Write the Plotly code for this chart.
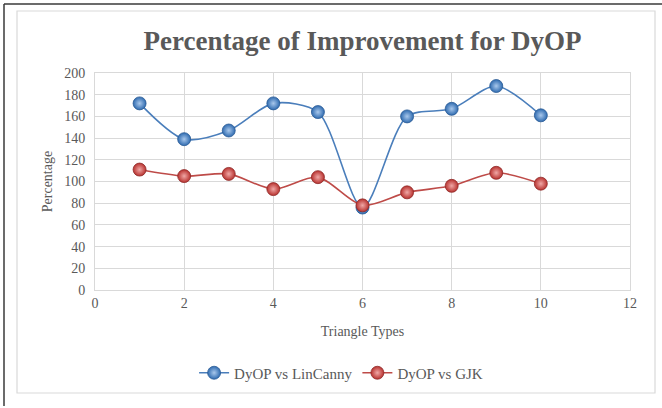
import plotly.graph_objects as go

triangle_types = [1, 2, 3, 4, 5, 6, 7, 8, 9, 10]
lincanny = [172, 139, 147, 172, 164, 76, 160, 167, 188, 161]
gjk = [111, 105, 107, 93, 104, 78, 90, 96, 108, 98]

W, H = 662, 408
L, R, T, B = 95, 630, 73, 290

def px(x):
    return (x - L) / (R - L)

def py(y):
    return (B - y) / (B - T)

font_fam = "Liberation Serif, DejaVu Serif, serif"
grey = "#595959"

fig = go.Figure()
fig.add_trace(go.Scatter(
    x=triangle_types, y=lincanny, name="DyOP vs LinCanny",
    mode="lines+markers", line=dict(color="#4a7ebb", width=1.6, shape="spline", smoothing=0.8),
    marker=dict(size=13, color="#2f6bb0", gradient=dict(type="radial", color="#a9c8ec"),
                line=dict(color="#2a5a94", width=0.8)),
))
fig.add_trace(go.Scatter(
    x=triangle_types, y=gjk, name="DyOP vs GJK",
    mode="lines+markers", line=dict(color="#be4b48", width=1.6, shape="spline", smoothing=0.8),
    marker=dict(size=13, color="#b8322f", gradient=dict(type="radial", color="#f0a8a6"),
                line=dict(color="#8e2a28", width=0.8)),
))

shapes = [
    dict(type="line", xref="paper", yref="paper", x0=px(4), x1=px(662), y0=py(4), y1=py(4),
         line=dict(color="#3a3a3a", width=1.5)),
    dict(type="line", xref="paper", yref="paper", x0=px(4), x1=px(4), y0=py(4), y1=py(406),
         line=dict(color="#3a3a3a", width=1.5)),
    dict(type="rect", xref="paper", yref="paper", x0=px(17), x1=px(655), y0=py(11), y1=py(393),
         line=dict(color="#d9d9d9", width=1.2), layer="below"),
]

fig.update_layout(
    width=W, height=H,
    margin=dict(l=L, r=W - R, t=T, b=H - B),
    paper_bgcolor="white", plot_bgcolor="white",
    font=dict(family=font_fam, color=grey, size=14),
    title=dict(text="<b>Percentage of Improvement for DyOP</b>", x=0.5, xref="paper",
               xanchor="center", y=1 - 41 / H, yanchor="middle",
               font=dict(family=font_fam, size=27, color=grey)),
    xaxis=dict(range=[0, 12], dtick=2, tick0=0, showgrid=True, gridcolor="#d9d9d9",
               gridwidth=1, zeroline=False, showline=True, linecolor="#d9d9d9",
               ticks="", tickfont=dict(size=14, color=grey),
               title=dict(text="Triangle Types", font=dict(size=14, color=grey), standoff=16),
               mirror=True),
    yaxis=dict(range=[0, 200], dtick=20, tick0=0, showgrid=True, gridcolor="#d9d9d9",
               gridwidth=1, zeroline=False, showline=True, linecolor="#d9d9d9",
               ticks="", tickfont=dict(size=14, color=grey), ticklabelstandoff=6,
               title=dict(text="Percentage", font=dict(size=14, color=grey), standoff=8),
               mirror=True),
    legend=dict(orientation="h", x=0.46, xanchor="center", y=py(373), yanchor="middle",
                font=dict(size=15, color=grey), bgcolor="rgba(0,0,0,0)",
                itemwidth=30, tracegroupgap=20),
    shapes=shapes,
    showlegend=True,
)

fig.write_html("out.html", config={"displayModeBar": False},
               post_script="document.body.style.margin='0';")
